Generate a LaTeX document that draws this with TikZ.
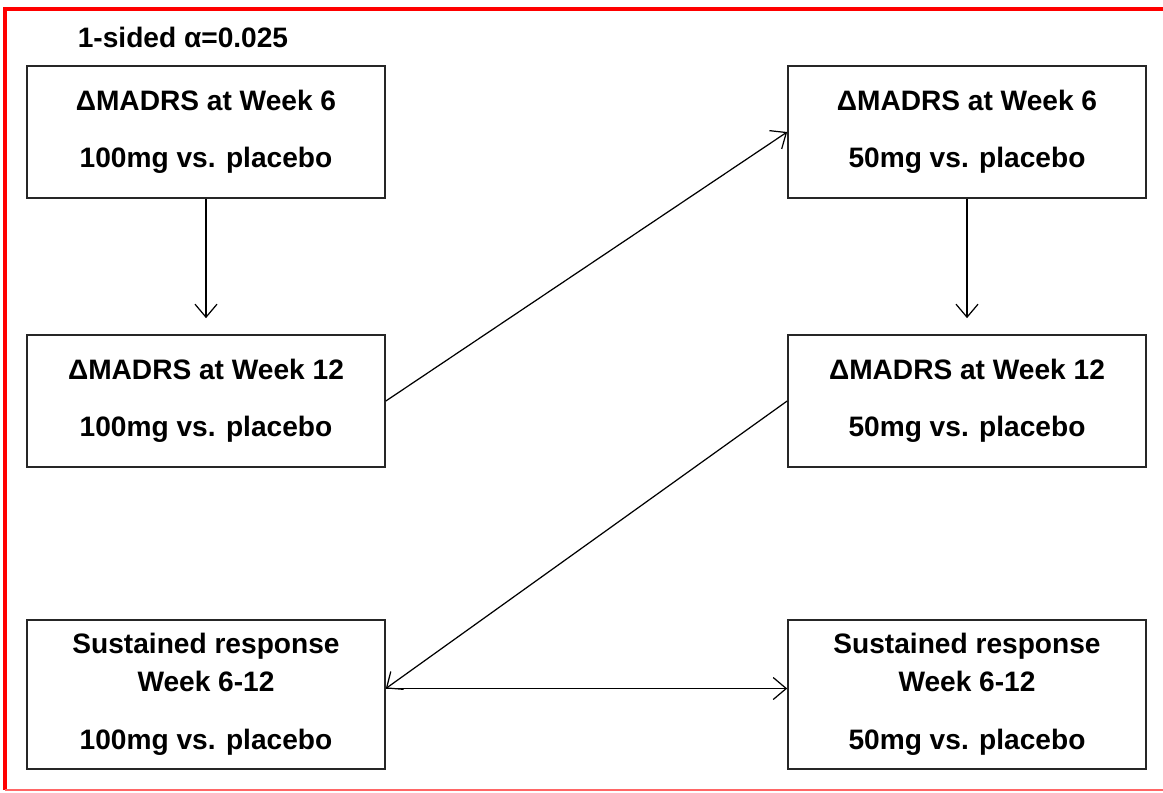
\documentclass[tikz,border=0pt]{standalone}
\usepackage{fontspec}
\setmainfont{Liberation Sans}
\usepackage{tikz}
\usetikzlibrary{
    arrows.meta,
    positioning
}
\tikzstyle{box} = [
    rectangle, draw,
    minimum width=7.16cm,
    minimum height=2.64cm,
    text centered,
    align=center,
    draw=black!85,
    line width=1pt,
    font=\fontsize{16}{21.6}\selectfont\bfseries
]
\tikzstyle{tallbox} = [
    box,
    minimum height=2.98cm
]
\tikzstyle{arrow} = [
    line width=0.7pt,
    -{Straight Barb[length=2.6mm,width=4.4mm]}
]

\begin{document}
\begin{tikzpicture}[x=0.02cm, y=-0.02cm]
    \useasboundingbox (0,0) rectangle (1163,792);
    \draw[red, line width=2.3pt] (1163,9) -- (5,9) -- (5,790);
    \draw[red!60, line width=1.2pt] (5,790) -- (1163,790);
    \node[font=\fontsize{16}{19}\selectfont\bfseries] (alpha) at (183,37) {1-sided α=0.025};
    \node[box] (hi6) at (206,132) {ΔMADRS at Week 6\\[0.38cm]100mg vs. placebo};
    \node[box] (hi12) at (206,401) {ΔMADRS at Week 12\\[0.38cm]100mg vs. placebo};
    \node[tallbox] (hisr) at (206,694.5) {Sustained response\\Week 6-12\\[0.4cm]100mg vs. placebo};
    \node[box] (lo6) at (967,132) {ΔMADRS at Week 6\\[0.38cm]50mg vs. placebo};
    \node[box] (lo12) at (967,401) {ΔMADRS at Week 12\\[0.38cm]50mg vs. placebo};
    \node[tallbox] (losr) at (967,694.5) {Sustained response\\Week 6-12\\[0.4cm]50mg vs. placebo};
    \draw[arrow, shorten >=0.32cm] (hi6) -- (hi12);
    \draw[arrow, shorten >=0.32cm] (lo6) -- (lo12);
    \draw[arrow] (hi12.east) -- (lo6.west);
    \draw[arrow] (lo12.west) -- ([yshift=0.12cm]hisr.east);
    \draw[arrow] ([yshift=0.12cm]hisr.east) -- ([yshift=0.12cm]losr.west);
\end{tikzpicture}
\end{document}
